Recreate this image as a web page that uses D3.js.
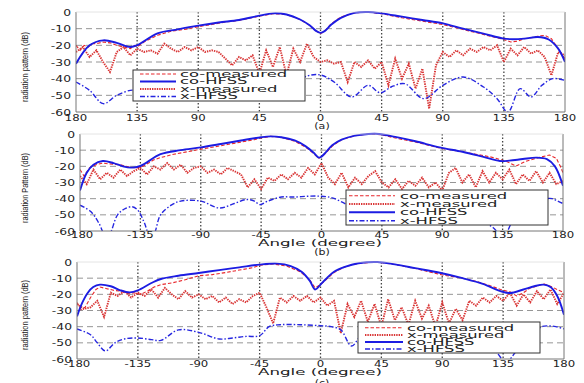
<!DOCTYPE html>
<html lang="en">
<head>
<meta charset="UTF-8">
<title>Radiation patterns</title>
<style>
body { margin:0; background:#fff; }
svg { display:block; font-family:'DejaVu Sans', sans-serif; }
</style>
</head>
<body>
<svg id="chart" width="584" height="383"></svg>
<script src="https://cdn.jsdelivr.net/npm/d3@7"></script>
<script>
/* global d3 */

// ---- data ----
var angle5 = d3.range(-180, 181, 5);

// panel (a)
var coHfssA_ang = [-180,-170,-160,-150,-140,-135,-120,-105,-90,-75,-60,-45,-35,-25,-15,-8,-3,0,3,8,15,25,35,45,60,75,90,105,120,135,140,150,160,168,175,180];
var coHfssA_val = [-31,-20,-17,-18.5,-21,-20,-12.8,-10.4,-8.2,-6.3,-4.8,-2.2,-0.8,-1.5,-4.5,-8,-11.5,-12.5,-11.5,-7.5,-3.5,-0.5,0,-0.8,-2.8,-4.8,-6.8,-10,-13,-16,-16.3,-16,-15,-16.5,-22,-30];
var coMeasA_ang = [-180,-177,-174,-171,-168,-165,-160,-155,-150,-145,-140,-137,-135,-130,-120,-110,-100,-90,-80,-70,-60,-45,-35,-25,-15,-8,-3,0,3,8,15,25,35,45,60,75,90,105,115,120,130,135,140,145,150,155,160,165,170,175,180];
var coMeasA_val = [-20,-23,-20,-21,-19,-19,-18,-18.5,-20,-21,-22,-20,-21,-18,-14,-11.5,-10.5,-8.8,-7.5,-6,-5,-2.5,-1,-1.5,-4.5,-8,-11.5,-13,-11.5,-7,-3,-0.5,0,-1,-3.5,-5.5,-7.5,-10.5,-12.5,-13.5,-15.5,-16.5,-18,-17.5,-16,-15.5,-14.5,-14,-16,-22,-28];
var xMeasA = [-24,-21,-27,-23,-30,-36,-24,-21,-26,-22,-24,-23,-25,-19,-22,-24,-21,-23,-21,-24,-23,-24,-28,-32,-27,-29,-26,-37,-23,-33,-21,-38,-22,-30,-19,-27,-30,-29,-31,-30,-42,-30,-33,-29,-34,-30,-44,-28,-40,-31,-46,-34,-58,-32,-24,-27,-23,-26,-22,-24,-21,-23,-20,-30,-22,-26,-21,-25,-23,-27,-38,-24,-26];
var xHfssA_ang = [-180,-170,-160,-150,-140,-135,-120,-100,-80,-60,-40,-25,-10,0,10,23,35,44,52,62,76,90,105,120,130,138,147,155,163,171,180];
var xHfssA_val = [-42,-47,-55,-50,-47,-47,-45,-50,-42,-48,-40,-45,-38.4,-37.8,-42,-51,-44,-48.5,-45,-43,-52,-44,-39,-45,-52,-60,-46,-51,-44,-40,-41];

// panel (b)
var coHfssB_ang = [-180,-175,-170,-163,-155,-148,-142,-135,-120,-105,-90,-75,-60,-45,-38,-30,-20,-12,-6,-2,0,3,8,15,25,35,43,55,70,88,105,120,133,140,150,160,168,174,180];
var coHfssB_val = [-35,-24,-19,-16.7,-18,-20,-20.8,-19.8,-12.5,-10,-8.3,-6.2,-4,-2,-1.5,-2,-4,-7.5,-11.5,-14.6,-14,-11.5,-7,-3.5,-1,0,0,-1.8,-4.5,-8.3,-11,-14,-16.7,-16.5,-15.5,-14.6,-15.5,-20,-32];
var coMeasB_ang = [-180,-177,-173,-168,-163,-158,-150,-143,-138,-133,-125,-120,-110,-100,-90,-80,-70,-60,-50,-45,-38,-30,-20,-12,-6,-2,0,3,8,15,25,35,45,55,70,90,105,115,125,130,138,145,152,160,165,170,175,178,180];
var coMeasB_val = [-22,-26,-21,-19,-18,-18.5,-19,-20.5,-21,-20,-16,-14.6,-12.5,-11,-9.4,-8,-6.5,-5,-3.5,-2.5,-1.5,-2,-4.5,-8,-12,-15,-14,-12,-7.5,-3.5,-1,0,-0.5,-2.5,-5,-9,-11,-12.5,-14,-15,-17,-19.8,-17,-15,-14,-13,-15,-20,-24];
var xMeasB = [-26,-31,-22,-28,-24,-27,-22,-26,-23,-21,-25,-20,-22,-18,-22,-19,-24,-21,-20,-24,-22,-25,-21,-23,-25,-33,-28,-34,-27,-29,-25,-28,-24,-27,-21,-25,-18,-27,-31,-24,-33,-27,-31,-26,-23,-30,-33,-28,-34,-29,-32,-27,-33,-30,-35,-24,-21,-30,-25,-33,-23,-30,-24,-28,-22,-31,-25,-29,-23,-30,-24,-31,-29];
var xHfssB_ang = [-180,-172,-166,-161,-158,-152,-146,-141,-137,-132,-128,-125,-120,-112,-105,-90,-76,-65,-56,-50,-46,-40,-30,-20,-10,0,8,15,22,30,45,60,75,90,105,120,128,133,137,141,146,152,160,168,172,176,180];
var xHfssB_val = [-44,-48,-55,-63,-62,-50,-46,-45,-47,-55,-63,-62,-50,-44,-41.5,-41.5,-45.8,-43,-40.5,-41.5,-43.7,-41.5,-39,-39,-38.5,-38.5,-39.5,-42,-45,-47,-49,-51,-53,-52,-50,-54,-58,-62,-62,-56,-50,-46,-42,-40,-40,-41.5,-43];

// panel (c)
var coHfssC_ang = [-180,-176,-172,-168,-163,-155,-148,-141,-135,-125,-118,-105,-90,-75,-60,-45,-32,-22,-14,-8,-4,0,4,10,18,28,42,55,70,89,105,120,133,140,150,158,165,170,175,180];
var coHfssC_val = [-33.6,-25,-19,-15.5,-14,-15,-17.5,-18.8,-17.5,-13,-10.5,-8.5,-6.8,-5,-3.3,-1.6,-1,-2.5,-6,-11.5,-17,-14,-10.5,-6,-3,-0.8,0,-1.5,-3.8,-6.8,-10,-13.5,-18,-19.2,-17,-15,-14,-15.5,-21,-32.6];
var coMeasC_ang = [-180,-177,-174,-170,-166,-163,-158,-153,-148,-143,-138,-133,-128,-123,-118,-110,-100,-90,-80,-70,-60,-50,-45,-35,-25,-15,-8,-4,0,4,10,18,28,42,55,70,90,105,115,125,133,140,145,150,155,160,165,170,175,180];
var coMeasC_val = [-25,-29.5,-28,-22,-17,-15.5,-16.5,-17.5,-18,-19.5,-19,-20,-18,-15.5,-14,-13,-11,-8.5,-7.8,-6.5,-5,-3.5,-2,-1.2,-2.5,-6,-11,-16,-14,-11,-6.5,-3,-0.8,0,-1.5,-4,-8,-10,-12,-14.5,-17,-18.5,-21,-19,-16,-15,-13.5,-15,-17,-19];
var xMeasC = [-26,-29,-28,-24,-34,-19,-21,-18,-22,-19,-21,-17,-22,-16,-20,-23,-18,-22,-20,-23,-21,-25,-22,-26,-23,-25,-21,-19,-28,-38,-22,-25,-21,-24,-21,-25,-22,-27,-24,-44,-26,-34,-24,-37,-26,-40,-23,-36,-28,-39,-24,-35,-27,-40,-25,-38,-29,-36,-24,-27,-22,-25,-21,-24,-19,-27,-20,-25,-18,-23,-17,-26,-19];
var xHfssC_ang = [-180,-170,-165,-159,-152,-145,-135,-125,-118,-105,-90,-75,-65,-55,-45,-38,-30,-15,0,8,15,23,30,45,60,75,90,105,120,130,137,145,152,158,163,168,174,180];
var xHfssC_val = [-41.4,-45,-50,-55,-50,-47.6,-47,-48,-48.5,-42,-43.5,-47.6,-47,-46,-45.6,-40,-38.8,-38.8,-39.4,-40,-42,-52,-46,-44,-48,-50,-47,-48,-52,-56,-62,-55,-50,-44.9,-40.2,-39.5,-40,-41.4];

var xTicks = [-180,-135,-90,-45,0,45,90,135,180];
var yTicks = [0,-10,-20,-30,-40,-50,-60];
var legendLabels = {coMeas:"co-measured", xMeas:"x-measured", coHfss:"co-HFSS", xHfss:"x-HFSS"};

// ---- styles ----
var styles = {
  coMeas: {color:"#e8262b", width:1.1, dash:"3.5,2", curve:d3.curveLinear},
  xMeas:  {color:"#d93535", width:1.9, dash:"1.4,1", curve:d3.curveLinear},
  coHfss: {color:"#1c1ce2", width:1.9, dash:null, curve:d3.curveCatmullRom},
  xHfss:  {color:"#2626e0", width:1.4, dash:"5,2,1.5,2", curve:d3.curveCatmullRom}
};

function zip(a, v) { return a.map(function (d, i) { return [d, v[i]]; }); }

var panels = [
  { id:"a", l:76, r:565, t:12, b:112, absTicks:true, yLabel:"radiation pattern (dB)", yLabelY:67,
    tickBase:121, angleLabel:false, tagY:129,
    series:{coMeas:zip(coMeasA_ang,coMeasA_val), xMeas:zip(angle5,xMeasA), coHfss:zip(coHfssA_ang,coHfssA_val), xHfss:zip(xHfssA_ang,xHfssA_val)},
    legend:{x0:133, y0:70, x1:305, y1:101, lx0:140, lx1:176, tx:180, rows:[74,81.5,89,96.5], order:["coMeas","coHfss","xMeas","xHfss"]} },
  { id:"b", l:80, r:563, t:134, b:231, absTicks:false, yLabel:"radiation Pattern (dB)", yLabelY:188,
    tickBase:237.5, angleLabel:246, tagY:255,
    series:{coMeas:zip(coMeasB_ang,coMeasB_val), xMeas:zip(angle5,xMeasB), coHfss:zip(coHfssB_ang,coHfssB_val), xHfss:zip(xHfssB_ang,xHfssB_val)},
    legend:{x0:346, y0:190, x1:548, y1:225, lx0:349, lx1:395, tx:400, rows:[195.7,204,212.3,220.7], order:["coMeas","xMeas","coHfss","xHfss"]} },
  { id:"c", l:77, r:564, t:262, b:359, absTicks:false, yLabel:"radiation pattern (dB)", yLabelY:315,
    tickBase:366.5, angleLabel:375, tagY:386,
    series:{coMeas:zip(coMeasC_ang,coMeasC_val), xMeas:zip(angle5,xMeasC), coHfss:zip(coHfssC_ang,coHfssC_val), xHfss:zip(xHfssC_ang,xHfssC_val)},
    legend:{x0:358, y0:322, x1:540, y1:353, lx0:365, lx1:403, tx:407, rows:[327.7,335,342,349], order:["coMeas","xMeas","coHfss","xHfss"]} }
];

var svg = d3.select("#chart");
var defs = svg.append("defs");
var plotLayer = svg.append("g").attr("class", "plots");
var legendLayer = svg.append("g").attr("class", "legends");

// stretched text helper (the source rendering is very wide)
function wideText(g, x, y, str, size, sx, anchor, fill) {
  return g.append("text")
    .attr("transform", "translate(" + x + "," + y + ") scale(" + sx + ",1)")
    .attr("text-anchor", anchor || "start")
    .attr("font-size", size)
    .attr("fill", fill || "#222")
    .text(str);
}

panels.forEach(function (p) {
  var x = d3.scaleLinear().domain([-180, 180]).range([p.l, p.r]);
  var y = d3.scaleLinear().domain([-60, 0]).range([p.b, p.t]);
  var g = plotLayer.append("g").attr("class", "panel-" + p.id);

  // grid
  g.selectAll(".hg").data(yTicks.filter(function (d) { return d > -60 && d < 0; }))
    .enter().append("line")
    .attr("x1", p.l).attr("x2", p.r)
    .attr("y1", function (d) { return y(d); }).attr("y2", function (d) { return y(d); })
    .attr("stroke", "#8a8a8a").attr("stroke-width", 0.9).attr("stroke-dasharray", "6,4");
  g.selectAll(".vg").data(xTicks.filter(function (d) { return d > -180 && d < 180; }))
    .enter().append("line")
    .attr("y1", p.t).attr("y2", p.b)
    .attr("x1", function (d) { return x(d); }).attr("x2", function (d) { return x(d); })
    .attr("stroke", "#444").attr("stroke-width", 1.3).attr("stroke-dasharray", "1.5,2");

  // curves
  var clipId = "clip-" + p.id;
  defs.append("clipPath").attr("id", clipId).append("rect")
    .attr("x", p.l).attr("y", p.t - 2).attr("width", p.r - p.l).attr("height", p.b - p.t + 2);
  var cg = g.append("g").attr("clip-path", "url(#" + clipId + ")");
  ["coMeas", "xMeas", "coHfss", "xHfss"].forEach(function (k) {
    var s = styles[k];
    var line = d3.line().x(function (d) { return x(d[0]); }).y(function (d) { return y(d[1]); }).curve(s.curve);
    cg.append("path").datum(p.series[k])
      .attr("d", line)
      .attr("fill", "none")
      .attr("stroke", s.color)
      .attr("stroke-width", s.width)
      .attr("stroke-dasharray", s.dash);
  });

  // axes box
  g.append("path")
    .attr("d", "M" + p.l + "," + p.t + "V" + p.b + "H" + p.r + "V" + p.t)
    .attr("fill", "none").attr("stroke", "#777").attr("stroke-width", 1);
  g.append("line").attr("x1", p.l).attr("x2", p.r).attr("y1", p.t).attr("y2", p.t)
    .attr("stroke", "#ddd").attr("stroke-width", 0.8);

  // tick labels
  yTicks.forEach(function (d) {
    wideText(g, p.l - 5, y(d) + 3.5, d, 9.5, 1.3, "end", "#222");
  });
  xTicks.forEach(function (d) {
    wideText(g, x(d), p.tickBase, p.absTicks ? Math.abs(d) : d, 9, 1.3, "middle", "#222");
  });

  // axis titles
  g.append("text")
    .attr("transform", "translate(28," + p.yLabelY + ") rotate(-90)")
    .attr("text-anchor", "middle")
    .attr("font-size", 8.5)
    .attr("font-family", "'Liberation Sans', sans-serif")
    .attr("textLength", 70).attr("lengthAdjust", "spacingAndGlyphs")
    .attr("fill", "#222")
    .text(p.yLabel);
  if (p.angleLabel) {
    wideText(g, 320, p.angleLabel, "Angle (degree)", 9, 1.85, "middle", "#222");
  }
  wideText(g, 322, p.tagY, "(" + p.id + ")", 8.5, 1.3, "middle", "#222");
});

// legends on top of everything
panels.forEach(function (p) {
  var L = p.legend;
  var lg = legendLayer.append("g").attr("class", "legend-" + p.id);
  lg.append("rect")
    .attr("x", L.x0).attr("y", L.y0)
    .attr("width", L.x1 - L.x0).attr("height", L.y1 - L.y0)
    .style("fill", "#ffffff").style("stroke", "#333").style("stroke-width", 1);
  L.order.forEach(function (k, i) {
    var s = styles[k];
    lg.append("line").attr("x1", L.lx0).attr("x2", L.lx1)
      .attr("y1", L.rows[i]).attr("y2", L.rows[i])
      .attr("stroke", s.color).attr("stroke-width", s.width)
      .attr("stroke-dasharray", s.dash);
    wideText(lg, L.tx, L.rows[i] + 2.8, legendLabels[k], 8, 2.05, "start", "#222");
  });
});
</script>
</body>
</html>
